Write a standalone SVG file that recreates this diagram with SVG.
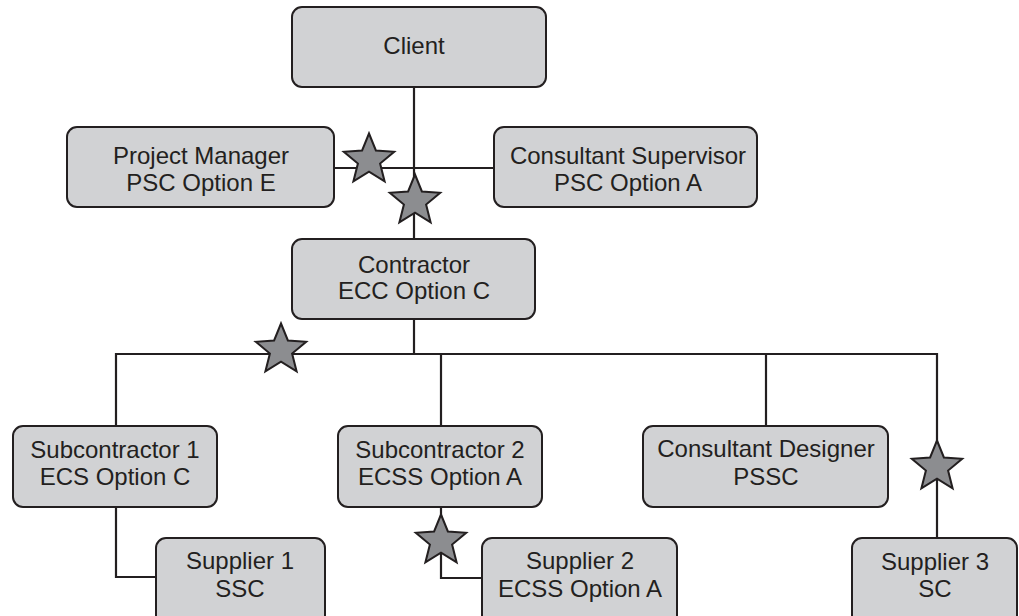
<svg xmlns="http://www.w3.org/2000/svg" width="1019" height="616" viewBox="0 0 1019 616">
<style>
.box{fill:#d1d2d4;stroke:#231f20;stroke-width:2}
.lbl{font-family:"Liberation Sans",Arial,sans-serif;font-size:24px;fill:#231f20;text-anchor:middle}
.ln{fill:none;stroke:#231f20;stroke-width:2.2}
.star{fill:#8c8d90;stroke:#231f20;stroke-width:2;stroke-linejoin:miter}
</style>
<defs>
<polygon id="star" points="0,-26.5 6.9,-9.5 25.2,-8.2 11.1,3.6 15.6,21.4 0,11.7 -15.6,21.4 -11.1,3.6 -25.2,-8.2 -6.9,-9.5"/>
</defs>
<rect width="1019" height="616" fill="#ffffff"/>
<g id="connectors">
<path class="ln" d="M414,87 V239"/>
<path class="ln" d="M334,168 H494"/>
<path class="ln" d="M414,319 V354"/>
<path class="ln" d="M116,426 V354 H937 V538"/>
<path class="ln" d="M441,354 V426"/>
<path class="ln" d="M766,354 V426"/>
<path class="ln" d="M116,507 V577 H156"/>
<path class="ln" d="M441,507 V578 H482"/>
<use href="#star" class="star" transform="translate(369,160)"/>
<use href="#star" class="star" transform="translate(415,201)"/>
<use href="#star" class="star" transform="translate(281,350)"/>
<use href="#star" class="star" transform="translate(441,541)"/>
<use href="#star" class="star" transform="translate(937,467)"/>
</g>
<g id="client">
<rect class="box" x="292" y="7" width="254" height="80" rx="10"/>
<text class="lbl" x="414" y="54">Client</text>
</g>
<g id="project-manager">
<rect class="box" x="67" y="127" width="267" height="80" rx="10"/>
<text class="lbl" x="201" y="164">Project Manager</text>
<text class="lbl" x="201" y="191">PSC Option E</text>
</g>
<g id="consultant-supervisor">
<rect class="box" x="494" y="127" width="263" height="80" rx="10"/>
<text class="lbl" x="628" y="164">Consultant Supervisor</text>
<text class="lbl" x="628" y="191">PSC Option A</text>
</g>
<g id="contractor">
<rect class="box" x="292" y="239" width="243" height="80" rx="10"/>
<text class="lbl" x="414" y="273">Contractor</text>
<text class="lbl" x="414" y="299">ECC Option C</text>
</g>
<g id="subcontractor-1">
<rect class="box" x="13" y="426" width="204" height="81" rx="10"/>
<text class="lbl" x="115" y="458">Subcontractor 1</text>
<text class="lbl" x="115" y="485">ECS Option C</text>
</g>
<g id="subcontractor-2">
<rect class="box" x="338" y="426" width="204" height="81" rx="10"/>
<text class="lbl" x="440" y="458">Subcontractor 2</text>
<text class="lbl" x="440" y="485">ECSS Option A</text>
</g>
<g id="consultant-designer">
<rect class="box" x="643" y="426" width="245" height="81" rx="10"/>
<text class="lbl" x="766" y="457">Consultant Designer</text>
<text class="lbl" x="766" y="485">PSSC</text>
</g>
<g id="supplier-1">
<rect class="box" x="156" y="538" width="169" height="90" rx="10"/>
<text class="lbl" x="240" y="569">Supplier 1</text>
<text class="lbl" x="240" y="597">SSC</text>
</g>
<g id="supplier-2">
<rect class="box" x="482" y="538" width="195" height="90" rx="10"/>
<text class="lbl" x="580" y="569">Supplier 2</text>
<text class="lbl" x="580" y="597">ECSS Option A</text>
</g>
<g id="supplier-3">
<rect class="box" x="852" y="538" width="165" height="90" rx="10"/>
<text class="lbl" x="935" y="570">Supplier 3</text>
<text class="lbl" x="935" y="597">SC</text>
</g>
</svg>
